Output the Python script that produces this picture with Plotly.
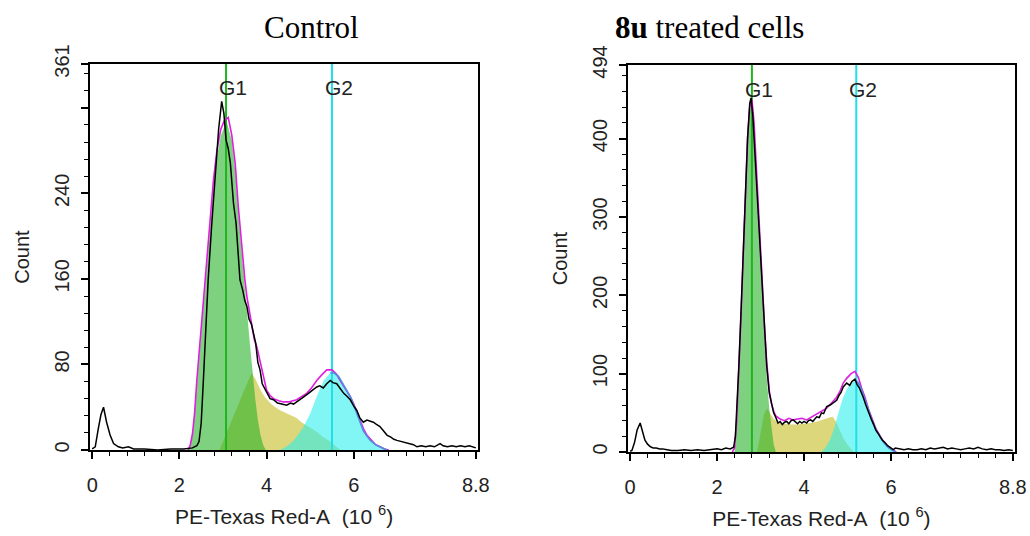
import plotly.graph_objects as go

# ---- Control panel ----
ctrl_raw_x = [0.0, 0.07, 0.14, 0.2, 0.26, 0.33, 0.41, 0.49, 0.6, 0.7, 0.83, 0.95, 1.2, 1.5, 1.8, 2.1, 2.3,
              2.4, 2.45, 2.5, 2.55, 2.6, 2.66, 2.74, 2.82, 2.9, 2.97, 3.02, 3.07, 3.12, 3.17, 3.24, 3.3,
              3.35, 3.39, 3.45, 3.5, 3.55, 3.6, 3.65, 3.7, 3.75, 3.8, 3.85, 3.9, 3.95, 4.0, 4.08, 4.16,
              4.25, 4.35, 4.46, 4.55, 4.62, 4.69, 4.78, 4.86, 4.96, 5.05, 5.15, 5.22, 5.3, 5.38, 5.46,
              5.52, 5.61, 5.68, 5.77, 5.85, 5.92, 6.0, 6.07, 6.14, 6.22, 6.3, 6.38, 6.45, 6.52, 6.6,
              6.68, 6.76, 6.85, 6.92, 6.99, 7.1, 7.2, 7.29, 7.37, 7.45, 7.55, 7.65, 7.75, 7.85, 7.98,
              8.05, 8.15, 8.25, 8.35, 8.45, 8.55, 8.65, 8.75, 8.8]
ctrl_raw_y = [1, 3, 20, 33, 40, 26, 14, 6, 3, 2, 3, 1, 1, 0, 1, 1, 2,
              4, 8, 25, 65, 110, 159, 210, 252, 300, 326, 315, 290, 282, 268, 231, 212,
              185, 159, 150, 140, 134, 122, 118, 109, 100, 82, 75, 62, 58, 53, 48, 47,
              44, 43, 42, 44, 43, 45, 48, 50, 53, 56, 59, 60, 58, 62, 65,
              63, 62, 58, 53, 50, 47, 41, 37, 30, 26, 28, 27, 26, 24, 22,
              18, 14, 12, 10, 9, 8, 7, 6, 5, 3, 4, 3, 4, 3, 6,
              4, 3, 4, 3, 4, 3, 4, 3, 2]

ctrl_fit_x = [2.2, 2.25, 2.3, 2.35, 2.4, 2.45, 2.5, 2.55, 2.6, 2.7, 2.78, 2.86, 2.95, 3.03, 3.12, 3.2,
              3.28, 3.35, 3.43, 3.5, 3.55, 3.65, 3.72, 3.78, 3.89, 4.0, 4.08, 4.16, 4.28, 4.39, 4.5,
              4.6, 4.69, 4.8, 4.92, 5.03, 5.15, 5.26, 5.38, 5.5, 5.6, 5.69, 5.8, 5.92, 6.0, 6.07,
              6.15, 6.22, 6.3, 6.38, 6.5, 6.6, 6.7, 6.8]
ctrl_fit_y = [0, 5, 15, 35, 65, 90, 115, 138, 162, 210, 252, 280, 300, 308, 311, 295,
              268, 228, 190, 160, 143, 118, 103, 96, 76, 56, 51, 48, 46, 45, 45,
              46, 47, 50, 53, 58, 65, 70, 75, 75, 71, 65, 58, 50, 43, 36,
              28, 20, 14, 10, 5, 3, 1, 0]

ctrl_g1_x = [2.2, 2.25, 2.3, 2.35, 2.4, 2.45, 2.5, 2.55, 2.6, 2.7, 2.78, 2.86, 2.95, 3.03, 3.1, 3.2,
             3.28, 3.35, 3.43, 3.5, 3.56, 3.62, 3.68, 3.74, 3.8, 3.86, 3.92, 3.98]
ctrl_g1_y = [0, 5, 15, 34, 62, 87, 111, 134, 157, 204, 244, 274, 294, 302, 305, 290,
             262, 222, 182, 150, 125, 98, 72, 48, 28, 14, 5, 0]

ctrl_s_x = [2.92, 3.0, 3.1, 3.2, 3.3, 3.4, 3.5, 3.58, 3.66, 3.75, 3.85, 3.95, 4.08, 4.2, 4.32, 4.46,
            4.58, 4.69, 4.8, 4.92, 5.04, 5.15, 5.3, 5.46, 5.6, 5.7]
ctrl_s_y = [0, 8, 18, 28, 38, 48, 57, 65, 72, 66, 57, 50, 44, 40, 37, 34,
            32, 30, 26, 23, 20, 17, 12, 8, 3, 0]

ctrl_g2_x = [4.3, 4.45, 4.6, 4.72, 4.85, 5.0, 5.15, 5.31, 5.46, 5.55, 5.65, 5.75, 5.85, 5.92, 6.0,
             6.07, 6.15, 6.22, 6.3, 6.38, 6.5, 6.6, 6.7, 6.76]
ctrl_g2_y = [0, 3, 8, 14, 22, 34, 50, 65, 72, 72, 69, 62, 55, 50, 42,
             34, 26, 18, 13, 9, 5, 3, 1, 0]

ctrl_g1_pos = 3.07
ctrl_g2_pos = 5.5

# ---- 8u treated panel ----
trt_raw_x = [0.0, 0.04, 0.1, 0.16, 0.23, 0.28, 0.34, 0.4, 0.46, 0.53, 0.6, 0.68, 0.75, 0.85, 0.95, 1.1,
             1.25, 1.4, 1.55, 1.7, 1.85, 2.0, 2.1, 2.2, 2.3, 2.38, 2.42, 2.46, 2.5, 2.55, 2.6, 2.65,
             2.7, 2.75, 2.78, 2.82, 2.87, 2.91, 2.96, 3.03, 3.08, 3.14, 3.2, 3.25, 3.3, 3.35, 3.4,
             3.45, 3.5, 3.55, 3.6, 3.65, 3.7, 3.75, 3.8, 3.85, 3.9, 3.95, 4.0, 4.06, 4.1, 4.15, 4.2,
             4.25, 4.29, 4.35, 4.4, 4.45, 4.52, 4.6, 4.65, 4.7, 4.75, 4.8, 4.85, 4.9, 4.98, 5.05,
             5.1, 5.17, 5.22, 5.27, 5.32, 5.36, 5.42, 5.47, 5.52, 5.56, 5.6, 5.65, 5.7, 5.75, 5.8,
             5.86, 5.92, 5.98, 6.05, 6.1, 6.2, 6.3, 6.4, 6.5, 6.6, 6.7, 6.8, 6.9, 7.0, 7.1, 7.2,
             7.3, 7.4, 7.5, 7.6, 7.7, 7.8, 7.9, 8.0, 8.1, 8.2, 8.3, 8.4, 8.5, 8.6, 8.7, 8.8]
trt_raw_y = [1, 2, 12, 28, 37, 28, 15, 10, 7, 5, 5, 4, 4, 3, 2, 2,
             3, 2, 3, 2, 3, 4, 3, 5, 4, 6, 20, 60, 110, 180, 250, 330,
             400, 445, 452, 430, 380, 340, 280, 215, 160, 110, 75, 60, 50, 44, 37,
             39, 35, 38, 39, 36, 40, 41, 38, 36, 39, 37, 39, 37, 40, 41, 39,
             43, 45, 44, 50, 49, 58, 60, 62, 64, 66, 72, 76, 83, 88, 85,
             90, 93, 86, 82, 76, 70, 60, 52, 45, 40, 35, 28, 24, 19, 15,
             12, 8, 6, 3, 5, 4, 3, 4, 3, 3, 4, 3, 5, 4, 5, 6,
             4, 5, 4, 3, 4, 5, 4, 6, 4, 3, 4, 3, 3, 2, 3, 2]

trt_fit_x = [2.35, 2.4, 2.45, 2.5, 2.55, 2.6, 2.65, 2.7, 2.75, 2.8, 2.85, 2.91, 2.97, 3.03, 3.09, 3.14,
             3.2, 3.25, 3.3, 3.35, 3.45, 3.55, 3.65, 3.75, 3.85, 3.95, 4.06, 4.15, 4.29, 4.4, 4.52,
             4.62, 4.75, 4.83, 4.9, 4.98, 5.08, 5.17, 5.25, 5.32, 5.4, 5.48, 5.56, 5.65, 5.75, 5.85,
             5.95, 6.05, 6.12]
trt_fit_y = [0, 5, 40, 100, 175, 250, 330, 400, 440, 450, 420, 350, 290, 222, 160, 115,
             78, 62, 52, 46, 42, 40, 43, 41, 42, 43, 41, 44, 48, 52, 56,
             62, 70, 78, 88, 94, 100, 103, 95, 82, 70, 55, 42, 30, 20, 12,
             6, 2, 0]

trt_g1_x = [2.4, 2.45, 2.5, 2.55, 2.6, 2.65, 2.7, 2.75, 2.8, 2.85, 2.91, 2.97, 3.03, 3.09, 3.14, 3.2,
            3.25, 3.3, 3.35]
trt_g1_y = [0, 35, 95, 170, 245, 325, 395, 435, 445, 415, 345, 280, 210, 145, 95, 55,
            28, 10, 0]

trt_s_x = [2.92, 3.0, 3.08, 3.15, 3.22, 3.3, 3.4, 3.55, 3.7, 3.85, 4.0, 4.15, 4.3, 4.45, 4.58, 4.66,
           4.74, 4.82, 4.9, 4.98, 5.06, 5.15]
trt_s_y = [0, 25, 48, 56, 50, 42, 38, 36, 35, 35, 36, 37, 39, 42, 44, 45,
           38, 28, 18, 11, 5, 0]

trt_g2_x = [4.4, 4.5, 4.6, 4.7, 4.8, 4.9, 5.0, 5.1, 5.18, 5.25, 5.32, 5.4, 5.48, 5.56, 5.65, 5.75,
            5.85, 5.95, 6.05, 6.1]
trt_g2_y = [0, 6, 16, 32, 52, 70, 82, 89, 92, 88, 80, 68, 54, 41, 29, 19,
            11, 5, 1, 0]

trt_g1_pos = 2.8
trt_g2_pos = 5.2

x_tickvals = [0, 2, 4, 6, 8.8]
x_ticktext = ["0", "2", "4", "6", "8.8"]
ctrl_y_tickvals = [0, 80, 160, 240, 320, 361]
ctrl_y_ticktext = ["0", "80", "160", "240", "", "361"]
trt_y_tickvals = [0, 100, 200, 300, 400, 494]
trt_y_ticktext = ["0", "100", "200", "300", "400", "494"]

SANS = "Liberation Sans, Arial, sans-serif"
SERIF = "Liberation Serif, Times New Roman, serif"


def add_panel(fig, xa, ya, raw, fit, g1, s, g2, g1_pos, g2_pos, ymax):
    """Adds one cell-cycle histogram (raw data, fit and the three modelled phases)"""
    xref, yref = xa.replace("axis", ""), ya.replace("axis", "")
    common = dict(xaxis=xref, yaxis=yref, mode="lines", showlegend=False, hoverinfo="skip")

    fig.add_trace(go.Scatter(x=s[0], y=s[1], fill="tozeroy", line=dict(width=0),
                             fillcolor="rgba(198,190,40,0.62)", **common))
    fig.add_trace(go.Scatter(x=g1[0], y=g1[1], fill="tozeroy", line=dict(width=0),
                             fillcolor="rgba(40,178,40,0.6)", **common))
    fig.add_trace(go.Scatter(x=g2[0], y=g2[1], fill="tozeroy", line=dict(width=0),
                             fillcolor="rgba(40,238,238,0.58)", **common))

    # phase marker lines
    fig.add_trace(go.Scatter(x=[g1_pos, g1_pos], y=[0, ymax], line=dict(color="#1fb51f", width=2), **common))
    fig.add_trace(go.Scatter(x=[g2_pos, g2_pos], y=[0, ymax], line=dict(color="#1fe0e8", width=2), **common))

    fig.add_trace(go.Scatter(x=fit[0], y=fit[1], line=dict(color="#e01ee0", width=1.6), **common))

    # blue outline on the falling side of the G2 peak
    peak = g2[0][g2[1].index(max(g2[1]))]
    idx = [i for i, v in enumerate(g2[0]) if v >= peak]
    fig.add_trace(go.Scatter(x=[g2[0][i] for i in idx], y=[g2[1][i] for i in idx],
                             line=dict(color="#4f8fe0", width=1.6), **common))

    fig.add_trace(go.Scatter(x=raw[0], y=raw[1], line=dict(color="black", width=1.5), **common))

    for pos, name in [(g1_pos, "G1"), (g2_pos, "G2")]:
        fig.add_annotation(x=pos, y=0.938, xref=xref, yref=yref + " domain", text=name,
                           showarrow=False, xshift=7, yanchor="middle",
                           font=dict(family=SANS, size=21, color="#222"))


def style_axes(fig, xa, ya, xdom, ydom, tickvals, ticktext, minor_dtick, ymax):
    axis_common = dict(showline=True, linecolor="black", linewidth=1.6, mirror=True,
                       ticks="outside", tickcolor="black", tickwidth=1.5, ticklen=7,
                       showgrid=False, zeroline=False, automargin=False,
                       tickfont=dict(family=SANS, size=20, color="#222"))
    fig.update_layout(**{
        xa: dict(domain=xdom, range=[-0.05, 8.85], tickmode="array", tickvals=x_tickvals,
                 ticktext=x_ticktext, ticklabelstandoff=9,
                 minor=dict(tickmode="linear", tick0=0, dtick=0.4, ticks="outside", ticklen=4,
                            tickcolor="black", tickwidth=1.2),
                 title=dict(text="PE-Texas Red-A\u00a0\u00a0(10\u00a0<sup>6</sup>)", standoff=14,
                            font=dict(family=SANS, size=21, color="#222")),
                 anchor=ya.replace("axis", ""), **axis_common),
        ya: dict(domain=ydom, range=[0, ymax], tickmode="array", tickvals=tickvals,
                 ticktext=ticktext, tickangle=-90, ticklabelstandoff=4,
                 minor=dict(tickmode="linear", tick0=0, dtick=minor_dtick, ticks="outside",
                            ticklen=4, tickcolor="black", tickwidth=1.2),
                 title=dict(text="Count", standoff=16, font=dict(family=SANS, size=20, color="#222")),
                 anchor=xa.replace("axis", ""), **axis_common),
    })


fig = go.Figure()
add_panel(fig, "xaxis", "yaxis", (ctrl_raw_x, ctrl_raw_y), (ctrl_fit_x, ctrl_fit_y),
          (ctrl_g1_x, ctrl_g1_y), (ctrl_s_x, ctrl_s_y), (ctrl_g2_x, ctrl_g2_y),
          ctrl_g1_pos, ctrl_g2_pos, 361)
add_panel(fig, "xaxis2", "yaxis2", (trt_raw_x, trt_raw_y), (trt_fit_x, trt_fit_y),
          (trt_g1_x, trt_g1_y), (trt_s_x, trt_s_y), (trt_g2_x, trt_g2_y),
          trt_g1_pos, trt_g2_pos, 494)

style_axes(fig, "xaxis", "yaxis", [0.0874, 0.4641], [0.1604, 0.8806],
           ctrl_y_tickvals, ctrl_y_ticktext, 16, 361)
style_axes(fig, "xaxis2", "yaxis2", [0.6097, 0.9854], [0.1567, 0.8787],
           trt_y_tickvals, trt_y_ticktext, 20, 494)

fig.add_annotation(x=0.2544, y=0.948, xref="paper", yref="paper", text="Control", showarrow=False,
                   yanchor="middle", font=dict(family=SERIF, size=31, color="black"))
fig.add_annotation(x=0.7825, y=0.948, xref="paper", yref="paper", text="<b>8u</b> treated cells",
                   showarrow=False, yanchor="middle", font=dict(family=SERIF, size=31, color="black"))

fig.update_layout(width=1030, height=536, margin=dict(l=0, r=0, t=0, b=0),
                  plot_bgcolor="white", paper_bgcolor="white")

# the page body has a default 8px margin; drop it so the figure sits at the window's corner
fig.write_html("out.html", config={"displayModeBar": False},
               post_script="document.body.style.margin='0';document.body.style.overflow='hidden';")
